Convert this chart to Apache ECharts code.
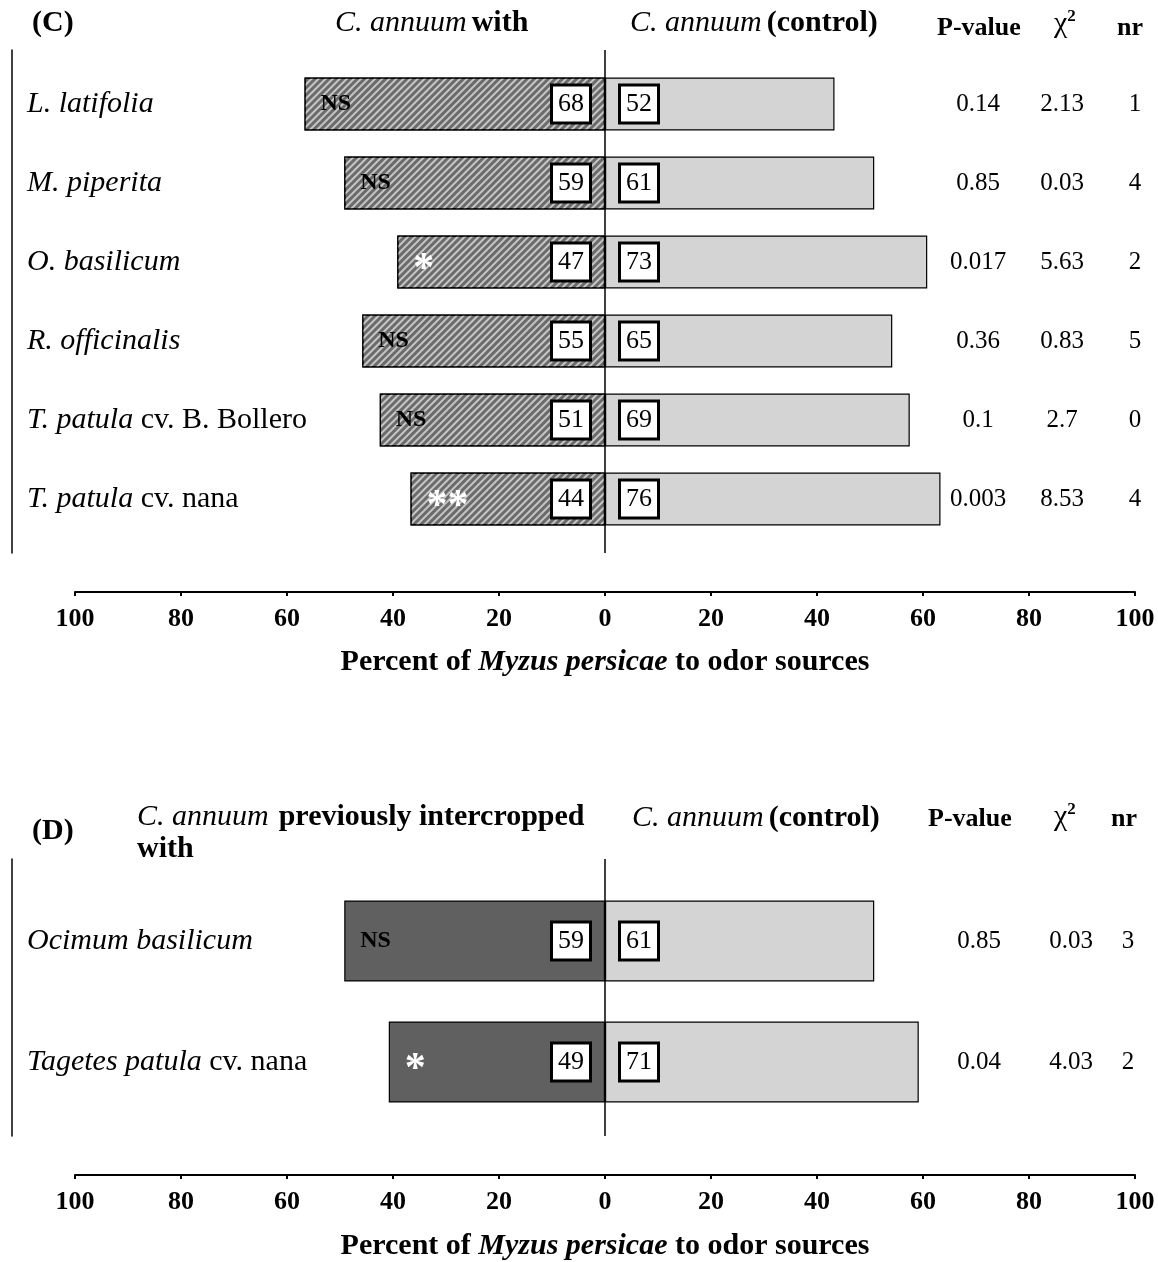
<!DOCTYPE html>
<html>
<head>
<meta charset="utf-8">
<script src="https://cdn.jsdelivr.net/npm/echarts@6/dist/echarts.min.js"></script>
<style>
html, body { margin: 0; padding: 0; background: #fff; }
#main { width: 1158px; height: 1262px; }
</style>
</head>
<body>
<div id="main"></div>
<script>
var FONT = '"Liberation Serif", "Times New Roman", serif';

// ---- panel (C) data ----
var catsC = ['L. latifolia', 'M. piperita', 'O. basilicum', 'R. officinalis', 'T. patula cv. B. Bollero', 'T. patula cv. nana'];
var withPctC = [56.7, 49.2, 39.2, 45.8, 42.5, 36.7];   // % to C. annuum with ...
var ctrlPctC = [43.3, 50.8, 60.8, 54.2, 57.5, 63.3];   // % to control
var withNC = [68, 59, 47, 55, 51, 44];
var ctrlNC = [52, 61, 73, 65, 69, 76];
var sigC = ['NS', 'NS', '*', 'NS', 'NS', '**'];
var pvalC = ['0.14', '0.85', '0.017', '0.36', '0.1', '0.003'];
var chiC = ['2.13', '0.03', '5.63', '0.83', '2.7', '8.53'];
var nrC = ['1', '4', '2', '5', '0', '4'];

// ---- panel (D) data ----
var catsD = ['Ocimum basilicum', 'Tagetes patula cv. nana'];
var withPctD = [49.2, 40.8];
var ctrlPctD = [50.8, 59.2];
var withND = [59, 49];
var ctrlND = [61, 71];
var sigD = ['NS', '*'];
var pvalD = ['0.85', '0.04'];
var chiD = ['0.03', '4.03'];
var nrD = ['3', '2'];

var xMin = -100, xMax = 100, xStep = 20;

function txt(size, weight, style, color) {
  return {
    fontFamily: FONT, fontSize: size,
    fontWeight: weight || 'normal', fontStyle: style || 'normal',
    color: color || '#000'
  };
}

function catLabel(v) {
  var k = v.indexOf(' cv.');
  if (k < 0) return '{i|' + v + '}';
  return '{i|' + v.slice(0, k) + '}{n|' + v.slice(k) + '}';
}

var boxLabel = {
  show: true,
  fontFamily: FONT, fontSize: 26, lineHeight: 27, color: '#000',
  backgroundColor: '#fff', borderColor: '#000', borderWidth: 3,
  padding: [5, 5, 3, 5],
  distance: 16
};

var hatch = {
  symbol: 'rect', symbolSize: 1, symbolKeepAspect: false,
  dashArrayX: [8, 0], dashArrayY: [1.5, 3],
  rotation: -Math.PI / 4,
  color: '#c6c6c6'
};

var grids = [], xAxes = [], yAxes = [], series = [];

function addPanel(p) {
  var gBar = grids.length;
  grids.push({ left: 75, right: 23, top: p.barTop, height: p.barH });
  var gFrame = grids.length;
  grids.push({ left: 75, right: 23, top: p.frameTop, height: p.frameH });

  // hidden x axis for the bars
  xAxes.push({ gridIndex: gBar, type: 'value', min: xMin, max: xMax, interval: xStep, show: false });
  // visible x axis, pushed below the frame
  xAxes.push({
    gridIndex: gFrame, type: 'value', min: xMin, max: xMax, interval: xStep,
    position: 'bottom', offset: 39,
    axisLine: { onZero: false, lineStyle: { color: '#000', width: 2 } },
    axisTick: { inside: false, length: 4, lineStyle: { color: '#000', width: 2 } },
    axisLabel: {
      margin: 14, fontFamily: FONT, fontSize: 26, fontWeight: 'bold', color: '#000',
      formatter: function (v) { return Math.abs(v); }
    },
    splitLine: { show: false },
    name: '{b|Percent of }{bi|Myzus persicae}{b| to odor sources}',
    nameLocation: 'middle', nameGap: p.nameGap,
    nameTextStyle: {
      fontFamily: FONT, fontSize: 30, fontWeight: 'bold', color: '#000',
      rich: { b: txt(30, 'bold'), bi: txt(30, 'bold', 'italic') }
    }
  });

  var yCat = yAxes.length;
  yAxes.push({
    gridIndex: gBar, type: 'category', data: p.cats, inverse: true,
    position: 'left', offset: 63,
    axisLine: { show: false },
    axisTick: { show: true, inside: true, alignWithLabel: true, length: 5, lineStyle: { color: '#000', width: 1.5 } },
    axisLabel: {
      inside: true, margin: 15, formatter: catLabel,
      rich: { i: txt(30, 'normal', 'italic'), n: txt(30) }
    }
  });
  var yTab = yAxes.length;
  yAxes.push({
    gridIndex: gBar, type: 'category', data: p.cats, inverse: true,
    position: 'right', offset: 20,
    axisLine: { show: false }, axisTick: { show: false },
    axisLabel: {
      inside: true, margin: 0,
      formatter: function (v, i) {
        return '{p|' + p.pval[i] + '}{c|' + p.chi[i] + '}{n|' + p.nr[i] + '}';
      },
      rich: {
        p: Object.assign(txt(25), { width: p.colW[0], align: 'center' }),
        c: Object.assign(txt(25), { width: p.colW[1], align: 'center' }),
        n: Object.assign(txt(25), { width: p.colW[2], align: 'center' })
      }
    }
  });
  var yFrame = yAxes.length;
  yAxes.push({
    gridIndex: gFrame, type: 'value', min: 0, max: 1,
    position: 'left', offset: 63,
    axisLine: { show: true, onZero: false, lineStyle: { color: '#000', width: 1.5 } },
    axisTick: { show: false }, axisLabel: { show: false }, splitLine: { show: false }
  });

  series.push({
    type: 'bar', name: 'with', xAxisIndex: gBar, yAxisIndex: yCat,
    data: p.withPct.map(function (v) { return -v; }),
    barWidth: p.barW, barGap: '-100%',
    itemStyle: { color: p.withColor, borderColor: '#000', borderWidth: 1.2, decal: p.decal },
    label: Object.assign({}, boxLabel, {
      position: 'insideRight',
      formatter: function (d) { return p.withN[d.dataIndex]; }
    }),
    silent: true
  });
  series.push({
    type: 'bar', name: 'control', xAxisIndex: gBar, yAxisIndex: yCat,
    data: p.ctrlPct, barWidth: p.barW, barGap: '-100%',
    itemStyle: { color: '#d4d4d4', borderColor: '#000', borderWidth: 1.2 },
    label: Object.assign({}, boxLabel, {
      position: 'insideLeft',
      formatter: function (d) { return p.ctrlN[d.dataIndex]; }
    }),
    silent: true
  });
  // significance marks, drawn at the far end of the left bars
  series.push({
    type: 'bar', name: 'sig', xAxisIndex: gBar, yAxisIndex: yCat,
    data: p.withPct.map(function (v) { return -v; }),
    barWidth: p.barW, barGap: '-100%',
    itemStyle: { color: 'rgba(0,0,0,0)' },
    label: {
      show: true, position: 'insideLeft', distance: 16,
      formatter: function (d) {
        var s = p.sig[d.dataIndex];
        return s === 'NS' ? '{ns|NS}' : '{st|' + s + '}';
      },
      rich: {
        ns: txt(24, 'bold'),
        st: Object.assign(txt(42, 'bold', 'normal', '#fff'), { padding: [17, 0, 0, 0] })
      }
    },
    silent: true
  });
  // vertical reference line at 0
  series.push({
    type: 'line', xAxisIndex: gFrame, yAxisIndex: yFrame, data: [], silent: true,
    markLine: {
      silent: true, symbol: ['none', 'none'], animation: false,
      label: { show: false },
      lineStyle: { color: '#000', type: 'solid', width: 1.5 },
      data: [{ xAxis: 0 }]
    }
  });
}

addPanel({
  cats: catsC, withPct: withPctC, ctrlPct: ctrlPctC, withN: withNC, ctrlN: ctrlNC,
  sig: sigC, pval: pvalC, chi: chiC, nr: nrC,
  barTop: 64.5, barH: 474, frameTop: 50, frameH: 503, barW: 53, nameGap: 55, colW: [62, 106, 40],
  withColor: '#6b6b6b', decal: hatch
});
addPanel({
  cats: catsD, withPct: withPctD, ctrlPct: ctrlPctD, withN: withND, ctrlN: ctrlND,
  sig: sigD, pval: pvalD, chi: chiD, nr: nrD,
  barTop: 880.5, barH: 242, frameTop: 859, frameH: 289, barW: 81, nameGap: 56, colW: [124, 60, 54],
  withColor: '#606060', decal: null
});

var headRich = {
  i: txt(30, 'normal', 'italic'),
  b: txt(30, 'bold'),
  h: txt(26, 'bold'),
  chi: txt(30),
  sup: Object.assign(txt(17, 'bold'), { verticalAlign: 'top' })
};
function head(left, top, text, lh) {
  return { left: left, top: top, padding: 0, text: text, textStyle: { rich: headRich, lineHeight: lh || 32 } };
}

var chart = echarts.init(document.getElementById('main'));
chart.setOption({
  animation: false,
  backgroundColor: '#fff',
  title: [
    head(32, 7, '{b|(C)}'),
    head(335, 7, '{i|C. annuum} {b|with}'),
    head(630, 7, '{i|C. annuum} {b|(control)}'),
    head(937, 12, '{h|P-value}'),
    head(1054, 8, '{chi|χ}{sup|2}'),
    head(1117, 12, '{h|nr}'),
    head(32, 815, '{b|(D)}'),
    head(137, 801, '{i|C. annuum}  {b|previously intercropped}\n{b|with}'),
    head(632, 802, '{i|C. annuum} {b|(control)}'),
    head(928, 803, '{h|P-value}'),
    head(1054, 801, '{chi|χ}{sup|2}'),
    head(1111, 803, '{h|nr}')
  ],
  grid: grids,
  xAxis: xAxes,
  yAxis: yAxes,
  series: series
});
</script>
</body>
</html>
